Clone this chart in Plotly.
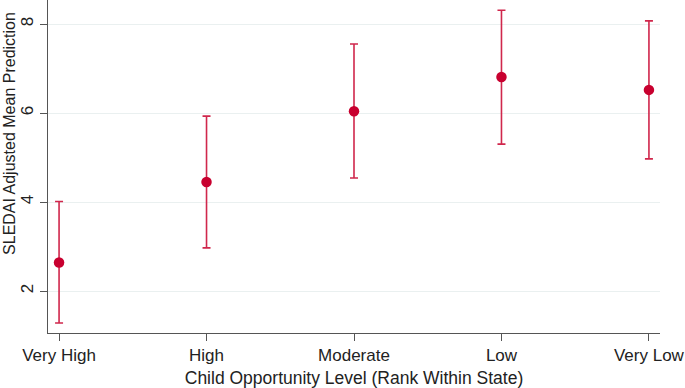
import plotly.graph_objects as go

categories = ["Very High", "High", "Moderate", "Low", "Very Low"]
means = [2.64, 4.45, 6.04, 6.81, 6.52]
lower = [1.28, 2.97, 4.54, 5.30, 4.97]
upper = [4.01, 5.93, 7.55, 8.31, 8.07]
x_title = "Child Opportunity Level (Rank Within State)"
y_title = "SLEDAI Adjusted Mean Prediction"

err_plus = [u - m for u, m in zip(upper, means)]
err_minus = [m - l for m, l in zip(means, lower)]
xpos = list(range(len(categories)))

fig = go.Figure()
fig.add_trace(go.Scatter(
    x=xpos, y=means, mode="markers",
    marker=dict(color="#c8002f", size=10.5),
    error_y=dict(type="data", symmetric=False, array=err_plus, arrayminus=err_minus,
                 color="#d0274c", thickness=1.6, width=4),
    showlegend=False,
))

font = "Liberation Sans, Arial, sans-serif"
fig.update_layout(
    width=685, height=388,
    margin=dict(l=48, r=25, t=0, b=55),
    paper_bgcolor="white", plot_bgcolor="white",
    font=dict(family=font, size=16, color="#222"),
)
fig.update_xaxes(
    tickmode="array", tickvals=xpos, ticktext=categories,
    range=[-0.075, 4.075], showgrid=False, zeroline=False,
    showline=True, linecolor="#555", linewidth=1,
    ticks="outside", ticklen=7, tickcolor="#555",
    tickfont=dict(size=17), automargin=False, ticklabelstandoff=0,
    title=dict(text=x_title, font=dict(size=17.5), standoff=8),
)
fig.update_yaxes(
    tickvals=[2, 4, 6, 8], range=[1.056, 8.54],
    showgrid=True, gridcolor="#eaf0f0", gridwidth=1, zeroline=False,
    showline=True, linecolor="#555", linewidth=1,
    ticks="outside", ticklen=7, tickcolor="#555",
    tickangle=-90, tickfont=dict(size=17), automargin=False, ticklabelstandoff=0,
)
fig.add_annotation(
    text=y_title, textangle=-90, showarrow=False,
    xref="paper", yref="paper", x=-0.062, y=0.598,
    xanchor="center", yanchor="middle", font=dict(size=16),
)
fig.write_html("out.html", post_script="document.body.style.margin='0';",
               config={"displayModeBar": False})
